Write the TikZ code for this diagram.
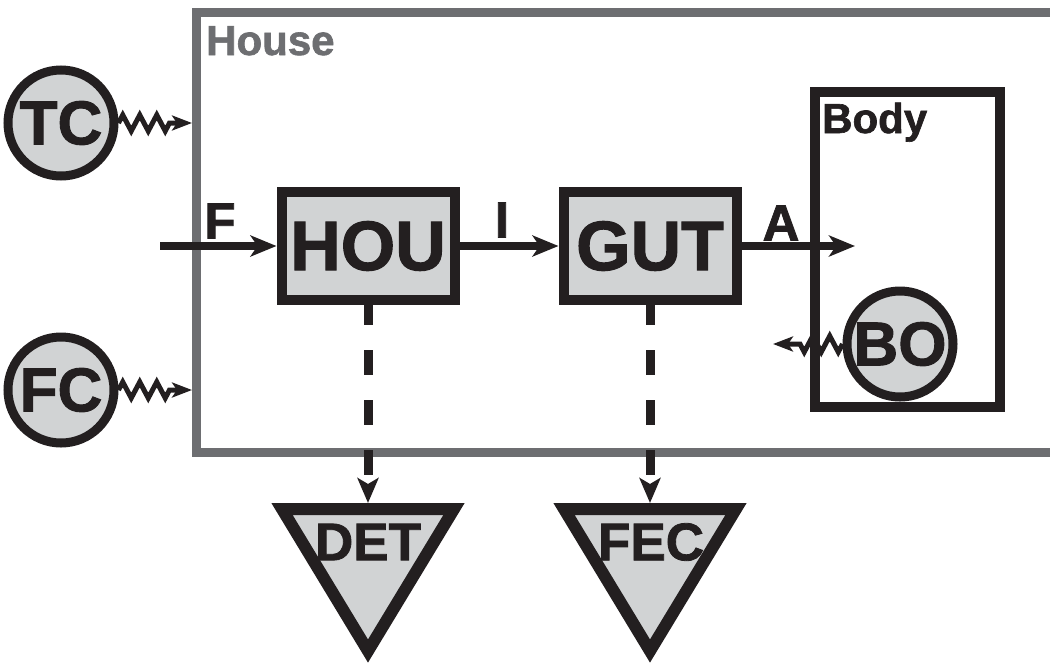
\documentclass[tikz,border=0pt]{standalone}
\usepackage{fontspec}
\setmainfont{Liberation Sans}[BoldFeatures={FakeBold=1.5}]
\usetikzlibrary{arrows.meta,decorations.pathmorphing}
\definecolor{ink}{HTML}{231F20}
\definecolor{hgray}{HTML}{6D6E71}
\definecolor{lfill}{HTML}{D1D3D4}
\begin{document}
\begin{tikzpicture}[x=1pt,y=-1pt,
  procbox/.style={draw=ink, line width=10pt, fill=lfill, inner sep=0pt,
    minimum width=173pt, minimum height=108pt, text=ink,
    font=\fontsize{70}{70}\selectfont\bfseries},
  pool/.style={circle, draw=ink, line width=9pt, fill=lfill, inner sep=0pt,
    minimum size=106pt, text=ink, font=\fontsize{62}{62}\selectfont\bfseries},
  sinktri/.style={draw=ink, line width=12pt, fill=lfill, line join=miter},
  sinktext/.style={text=ink, inner sep=0pt, font=\fontsize{53}{53}\selectfont\bfseries},
  flowlbl/.style={text=ink, inner sep=0pt, font=\fontsize{51}{51}\selectfont\bfseries},
  framelbl/.style={inner sep=0pt, anchor=base west, font=\fontsize{42}{42}\selectfont\bfseries},
  flow/.style={draw=ink, line width=8pt, -{Stealth[length=26pt,width=21pt,inset=7pt]}},
  loss/.style={draw=ink, line width=9pt, dash pattern=on 25pt off 25pt, dash phase=5pt,
    -{Stealth[length=25pt,width=21pt,inset=6pt]}},
  wave/.style={draw=ink, line width=5pt, decorate,
    decoration={zigzag, segment length=17pt, amplitude=8pt, post length=21pt},
    -{Stealth[length=20pt,width=15pt,inset=5pt]}}
]
\clip (0,0) rectangle (1050,665);
% House frame
\draw[hgray, line width=9pt] (196,12) rectangle (1080,452);
\node[framelbl, text=hgray] (houselbl) at (206,55) {House};
% Body frame
\draw[ink, line width=10pt] (815,92) rectangle (1000,407);
\node[framelbl, text=ink] (bodylbl) at (822,133) {Body};
% boxes
\node[procbox] (hou) at (368,246) {HOU};
\node[procbox] (gut) at (650,246) {GUT};
% pools
\node[pool] (tc) at (61,123) {TC};
\node[pool] (fc) at (61,390) {FC};
\node[pool] (bo) at (900,344) {BO};
% sinks
\draw[sinktri] (282,509) -- (454,509) -- (368,651) -- cycle;
\draw[sinktri] (564,509) -- (736,509) -- (650,651) -- cycle;
\node[sinktext] (det) at (368,542) {DET};
\node[sinktext] (fec) at (651,542) {FEC};
% coordinates
\coordinate (fstart) at (160,246);
\coordinate (aend) at (855,246);
\coordinate (tctip) at (192,123);
\coordinate (fctip) at (192,390);
\coordinate (botip) at (773,344);
\coordinate (dettop) at (368,503);
\coordinate (fectop) at (650,503);
% flows
\draw[flow] (fstart) -- (hou);
\draw[flow] (hou) -- (gut);
\draw[flow] (gut) -- (aend);
\node[flowlbl] (lf) at (220,221) {F};
\node[flowlbl] (li) at (502,220) {I};
\node[flowlbl] (la) at (781,223) {A};
% losses
\draw[loss] (hou.south) -- (dettop);
\draw[loss] (gut.south) -- (fectop);
% waves
\draw[wave] (tc) -- (tctip);
\draw[wave] (fc) -- (fctip);
\draw[wave] (bo) -- (botip);
\end{tikzpicture}
\end{document}
